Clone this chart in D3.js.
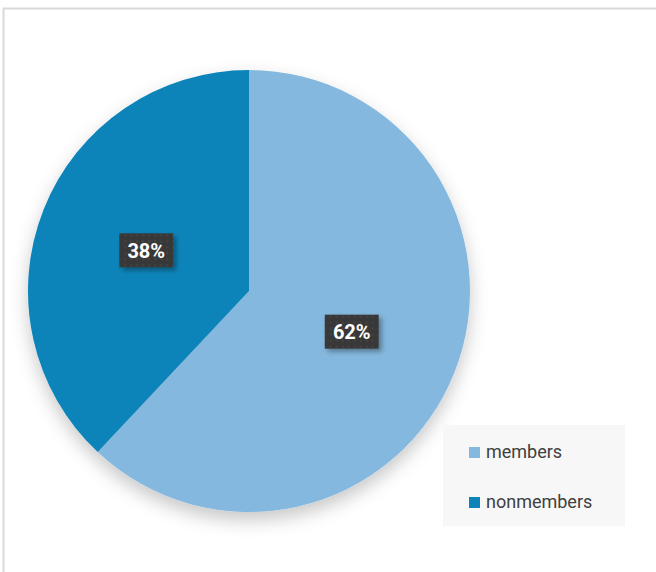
<!DOCTYPE html>
<html><head><meta charset="utf-8">
<script src="https://cdn.jsdelivr.net/npm/d3@7/dist/d3.min.js"></script>
<style>
html,body{margin:0;padding:0;background:#fff;}
svg{display:block;}
</style></head>
<body>
<svg id="c" width="656" height="572"></svg>
<script>
const categories = ["members", "nonmembers"];
const values = [62, 38];
const colors = ["#85b8de", "#0a84b9"];

const svg = d3.select("#c");
const defs = svg.append("defs");
const sh = defs.append("filter").attr("id","pieShadow").attr("x","-20%").attr("y","-20%").attr("width","140%").attr("height","150%");
sh.append("feDropShadow").attr("dx",0).attr("dy",8).attr("stdDeviation",9).attr("flood-color","#000").attr("flood-opacity",0.22);
const ls = defs.append("filter").attr("id","lblShadow").attr("x","-30%").attr("y","-30%").attr("width","170%").attr("height","180%");
ls.append("feDropShadow").attr("dx",3).attr("dy",3).attr("stdDeviation",2.5).attr("flood-color","#000").attr("flood-opacity",0.35);
const pat = defs.append("pattern").attr("id","dots").attr("width",6).attr("height",6).attr("patternUnits","userSpaceOnUse");
pat.append("rect").attr("width",6).attr("height",6).attr("fill","#383838");
pat.append("circle").attr("cx",3).attr("cy",3).attr("r",1).attr("fill","#474747");

// outer frame
svg.append("rect").attr("x",3.5).attr("y",8.5).attr("width",680).attr("height",600)
  .attr("fill","#fff").attr("stroke","#d9d9d9").attr("stroke-width",2);

const cx = 249, cy = 291, R = 221;
const pie = d3.pie().sort(null).value(d => d)(values);
const arc = d3.arc().innerRadius(0).outerRadius(R);
const lblArc = d3.arc().innerRadius(R*0.5).outerRadius(R*0.5);

const g = svg.append("g").attr("transform",`translate(${cx},${cy})`);
g.append("g").attr("filter","url(#pieShadow)")
  .selectAll("path").data(pie).join("path")
  .attr("d", arc).attr("fill",(d,i)=>colors[i]);

const lg = g.selectAll("g.lbl").data(pie).join("g").attr("class","lbl")
  .attr("transform", d => { const c = lblArc.centroid(d); return `translate(${c[0]},${c[1]})`; });
lg.append("rect").attr("x",-27).attr("y",-17).attr("width",54).attr("height",34)
  .attr("fill","url(#dots)").attr("filter","url(#lblShadow)");
lg.append("text").attr("text-anchor","middle").attr("dy","0.36em")
  .attr("font-family","Roboto, Arial, sans-serif").attr("font-weight","bold").attr("font-size",20)
  .attr("fill","#fff").text((d,i)=> values[i] + "%");

// legend
const leg = svg.append("g");
leg.append("rect").attr("x",443).attr("y",425).attr("width",182).attr("height",101).attr("fill","#f7f7f7");
const items = leg.selectAll("g.it").data(categories).join("g").attr("class","it")
  .attr("transform",(d,i)=>`translate(469,${447 + i*50})`);
items.append("rect").attr("width",11).attr("height",11).attr("fill",(d,i)=>colors[i]);
items.append("text").attr("x",17).attr("y",10.5)
  .attr("font-family","Roboto, Arial, sans-serif").attr("font-size",18).attr("fill","#404040")
  .text(d=>d);
</script>
</body></html>
